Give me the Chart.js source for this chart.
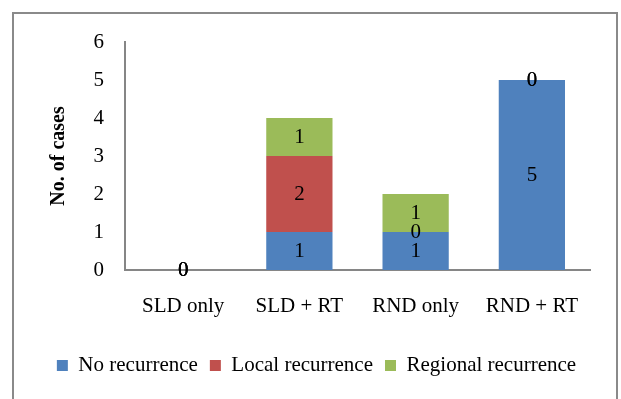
<!DOCTYPE html>
<html>
<head>
<meta charset="utf-8">
<script src="https://cdn.jsdelivr.net/npm/chart.js@4"></script>
<style>
  html, body { margin: 0; padding: 0; background: #fff; }
  #recurrence { display: block; }
</style>
</head>
<body>
<canvas id="recurrence" width="621" height="399"></canvas>
<script>
// groups and counts
const categories = ["SLD only", "SLD + RT", "RND only", "RND + RT"];
const noRecurrence = [0, 1, 1, 5];
const localRecurrence = [0, 2, 0, 0];
const regionalRecurrence = [0, 1, 1, 0];
const yTicks = [0, 1, 2, 3, 4, 5, 6];

const serif = "'Liberation Serif', 'Times New Roman', serif";

// grey frame round the whole chart
const frame = {
  id: 'frame',
  beforeDraw(chart) {
    const ctx = chart.ctx;
    ctx.save();
    ctx.strokeStyle = '#8a8a8a';
    ctx.lineWidth = 2;
    ctx.strokeRect(13, 13, 604, 400);
    ctx.restore();
  }
};

// numbers in the middle of each segment (zeros too)
const valueLabels = {
  id: 'valueLabels',
  afterDatasetsDraw(chart) {
    const ctx = chart.ctx;
    ctx.save();
    ctx.font = '21px ' + serif;
    ctx.fillStyle = '#000';
    ctx.textAlign = 'center';
    ctx.textBaseline = 'middle';
    chart.data.datasets.forEach((ds, i) => {
      chart.getDatasetMeta(i).data.forEach((bar, j) => {
        ctx.fillText(ds.data[j], bar.x, (bar.y + bar.base) / 2);
      });
    });
    ctx.restore();
  }
};

new Chart(document.getElementById("recurrence"), {
  type: 'bar',
  data: {
    labels: categories,
    datasets: [
      { label: "No recurrence", data: noRecurrence, backgroundColor: "#4F81BD" },
      { label: "Local recurrence", data: localRecurrence, backgroundColor: "#C0504D" },
      { label: "Regional recurrence", data: regionalRecurrence, backgroundColor: "#9BBB59" }
    ]
  },
  options: {
    responsive: false,
    animation: false,
    devicePixelRatio: 1,
    barPercentage: 0.57,
    categoryPercentage: 1,
    layout: { padding: { left: 43, right: 31, top: 42, bottom: 13 } },
    plugins: {
      tooltip: { enabled: false },
      legend: {
        position: 'bottom',
        labels: {
          font: { family: serif, size: 21 },
          color: '#000',
          boxWidth: 11,
          boxHeight: 11,
          padding: 12
        }
      }
    },
    scales: {
      x: {
        stacked: true,
        grid: { display: false, drawTicks: false },
        border: { color: '#868686', width: 2 },
        ticks: { font: { family: serif, size: 21 }, color: '#000', padding: 24 },
        afterFit(scale) { scale.height = 73; }
      },
      y: {
        stacked: true,
        min: 0,
        max: 6,
        afterBuildTicks(scale) { scale.ticks = yTicks.map(v => ({ value: v })); },
        grid: { display: false, drawTicks: false },
        border: { color: '#868686', width: 2 },
        ticks: { font: { family: serif, size: 21 }, color: '#000', padding: 21 },
        title: {
          display: true,
          text: 'No. of cases',
          font: { family: serif, size: 20, weight: 'bold' },
          color: '#000'
        },
        afterFit(scale) { scale.width = 82; }
      }
    }
  },
  plugins: [frame, valueLabels]
});
</script>
</body>
</html>
